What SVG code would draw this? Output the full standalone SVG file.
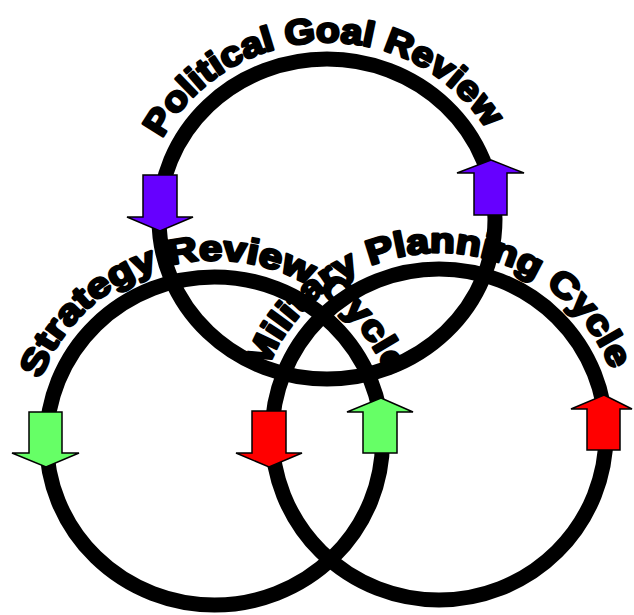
<svg xmlns="http://www.w3.org/2000/svg" width="634" height="615" viewBox="0 0 634 615">
<style>
.ring{fill:none;stroke:#000;stroke-width:15}
.lbl{font-family:"Liberation Sans",Arial,sans-serif;font-weight:bold;font-size:35px;fill:#000;stroke:#000;stroke-width:2.6;stroke-linejoin:round}
.arr{stroke:#000;stroke-width:1.5;stroke-linejoin:miter}
.purple{fill:#6600FF}
.green{fill:#66FF66}
.red{fill:#FF0000}
</style>
<defs>
<path id="pTop" d="M162.2,138.6 A185,177 0 0 1 488.8,133.2"/>
<path id="pLeft" d="M40.7,379.1 A185,181 0 0 1 388.3,379.1"/>
<path id="pRight" d="M266.1,372.3 A184,182 0 0 1 611.9,372.3"/>
</defs>
<g id="political-goal-review">
<ellipse class="ring" cx="327" cy="219" rx="168" ry="160"/>
</g>
<g id="strategy-review-cycle">
<ellipse class="ring" cx="214.5" cy="441" rx="168" ry="164"/>
</g>
<g id="military-planning-cycle">
<ellipse class="ring" cx="439" cy="434.5" rx="167" ry="165.5"/>
</g>
<g id="labels">
<text class="lbl"><textPath href="#pTop" textLength="390" lengthAdjust="spacingAndGlyphs">Political Goal Review</textPath></text>
<text class="lbl"><textPath href="#pLeft" textLength="445" lengthAdjust="spacingAndGlyphs">Strategy Review Cycle</textPath></text>
<text class="lbl"><textPath href="#pRight" textLength="445" lengthAdjust="spacingAndGlyphs">Military Planning Cycle</textPath></text>
</g>
<g id="connectors">
<path class="arr purple" d="M143,175 H177 V217 H193 L160,231 L127,217 H143 Z"/>
<path class="arr purple" d="M491,160 L524,173 H507 V215 H474 V173 H457 Z"/>
<path class="arr green" d="M29,412 H62 V453 H79 L46,467 L12,453 H29 Z"/>
<path class="arr green" d="M381,398 L413,412 H397 V453 H363 V412 H347 Z"/>
<path class="arr red" d="M252,411 H286 V453 H302 L269,467 L236,453 H252 Z"/>
<path class="arr red" d="M604,395 L632,409 H620 V450 H587 V409 H571 Z"/>
</g>
</svg>
